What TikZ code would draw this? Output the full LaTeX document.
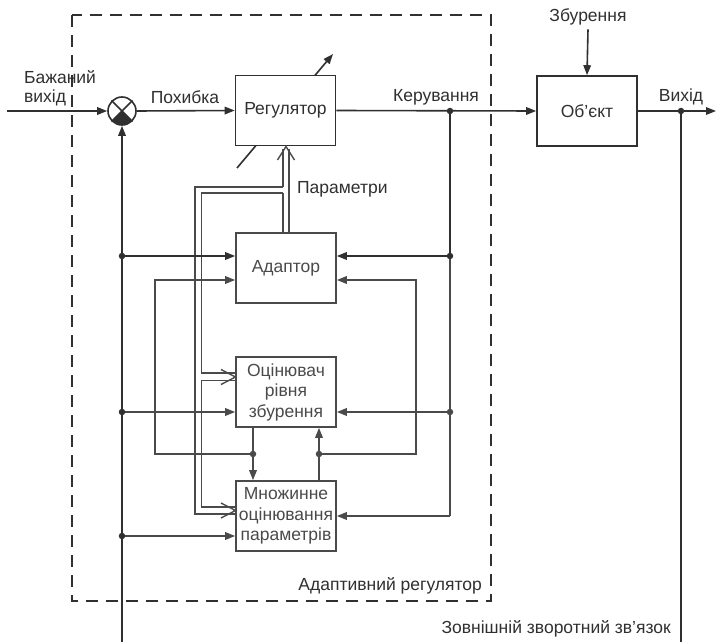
\documentclass[tikz,border=0pt]{standalone}
\usepackage{fontspec}
\setmainfont{Liberation Sans}
\usetikzlibrary{arrows.meta,calc}
\definecolor{ink}{HTML}{303030}
\definecolor{ink2}{HTML}{4A4A4A}
\begin{document}
\begin{tikzpicture}[x=1pt,y=-1pt,
  line width=1.6pt,
  every node/.style={font=\fontsize{17.5}{20.5}\selectfont, text=ink},
  blk/.style={draw=ink, fill=white, minimum width=100pt, minimum height=70pt, inner sep=0pt, align=center},
  sblk/.style={blk, draw=ink2, text=ink2},
  arr/.style={draw=ink, -{Triangle[length=10pt,width=7.5pt]}},
  sarr/.style={draw=ink2, -{Triangle[length=10pt,width=7.5pt]}},
  ln/.style={draw=ink},
  sln/.style={draw=ink2},
  dotn/.style={circle, fill=ink, inner sep=0pt, minimum size=6.5pt},
  dbl/.style={draw=ink2, line width=1.4pt, line join=miter},
  frame/.style={draw=ink, line width=1.6pt, dash pattern=on 12pt off 8pt}
]
\useasboundingbox (0,0) rectangle (716,642);
\fill[white] (0,0) rectangle (716,642);

% adaptive regulator frame
\draw[frame] (72,15) rectangle (491,601);
\node[anchor=east] (lab) at (486,586) {Адаптивний регулятор};

% adjustable-regulator diagonal arrow (behind the block)
\coordinate (dA) at (237,168);
\coordinate (dB) at (333,54);
\draw[arr] (dA) -- (dB);

% blocks
\node[blk] (reg) at (285.5,110.5) {Регулятор};
\node[blk] (obj) at (587,111) {Об’єкт};
\node[sblk] (adapt) at (286,268) {Адаптор};
\node[sblk] (est) at (286,392) {Оцінювач\\рівня\\збурення};
\node[sblk] (mult) at (286,516) {Множинне\\оцінювання\\параметрів};

% summing junction
\node[circle, draw=ink, minimum size=28pt, inner sep=0pt] (sum) at (122,111) {};
\begin{scope}
  \clip (sum.center) -- ($(sum.center)!2!(sum.-45)$) -- ($(sum.center)!2!(sum.-135)$) -- cycle;
  \node[circle, fill=ink, minimum size=28pt, inner sep=0pt] at (sum.center) {};
\end{scope}
\draw[ln] (sum.45) -- (sum.-135);
\draw[ln] (sum.135) -- (sum.-45);

% labels on top
\node[align=left, anchor=west, font=\fontsize{17.5}{18.5}\selectfont] (des) at (20,88) {Бажаний\\вихід};
\node (err) at (185,97) {Похибка};
\node (ctl) at (436,97) {Керування};
\node (outl) at (681,97) {Вихід};
\node (zb) at (588,17) {Збурення};
\node[anchor=west] (par) at (293,189) {Параметри};
\node[anchor=east] (fbl) at (675,629) {Зовнішній зворотний зв’язок};

% main line
\coordinate (in) at (7,111);
\coordinate (ku) at (450,111);
\coordinate (vy) at (681,111);
\coordinate (out) at (716,111);
\draw[arr] (in) -- (sum.west);
\draw[arr] (sum.east) -- (reg.west);
\draw[arr] (reg.east) -- (obj.west);
\draw[arr] (obj.east) -- (out);
\draw[arr] (zb.south) -- (obj.north);

% external feedback
\coordinate (fbR) at (681,642);
\coordinate (fbL) at (122,642);
\draw[ln] (vy) -- (fbR);
\draw[arr] (fbL) -- (sum.south);
\node[dotn] at (vy) {};

% double (parameter) lines
\draw[dbl] (289,233) -- (289,149);
\draw[dbl] (283,233) -- (283,193);
\draw[dbl] (283,187) -- (283,149);
\draw[dbl] (277.5,160) -- (286,146.5) -- (294.5,160);
\draw[dbl] (283,187) -- (195,187) -- (195,514) -- (235,514);
\draw[dbl] (283,193) -- (201.5,193) -- (201.5,373) -- (235,373);
\draw[dbl] (235,380.5) -- (201.5,380.5) -- (201.5,507) -- (235,507);
\draw[dbl] (221,369.5) -- (235.5,377) -- (221,384.5);
\draw[dbl] (221,503) -- (235.5,510.5) -- (221,518);

% left taps (error signal)
\coordinate (l1) at (122,256);
\coordinate (l2) at (122,412);
\coordinate (l3) at (122,536);
\draw[arr] (l1) -- (adapt.west |- l1);
\draw[sarr] (l2) -- (est.west |- l2);
\draw[sarr] (l3) -- (mult.west |- l3);
\node[dotn] at (l1) {};
\node[dotn] at (l2) {};
\node[dotn] at (l3) {};

% right taps (control signal)
\coordinate (r1) at (450,256);
\coordinate (r2) at (450,412);
\coordinate (r3) at (450,516);
\draw[ln] (ku) -- (r1);
\draw[sln] (r1) -- (r3);
\draw[arr] (r1) -- (adapt.east |- r1);
\draw[sarr] (r2) -- (est.east |- r2);
\draw[sarr] (r3) -- (mult.east |- r3);
\node[dotn] at (ku) {};
\node[dotn] at (r1) {};
\node[dotn, fill=ink2] at (r2) {};

% internal estimator links
\coordinate (e1) at (253,454);
\coordinate (m1) at (319,454);
\coordinate (cL) at (155,454);
\coordinate (cLt) at (155,280);
\coordinate (cR) at (416,454);
\coordinate (cRt) at (416,280);
\draw[sln] (e1 |- est.south) -- (e1);
\draw[sarr] (e1) -- (e1 |- mult.north);
\draw[sarr] (e1) -- (cL) -- (cLt) -- (adapt.west |- cLt);
\draw[sln] (m1 |- mult.north) -- (m1);
\draw[sarr] (m1) -- (m1 |- est.south);
\draw[sarr] (m1) -- (cR) -- (cRt) -- (adapt.east |- cRt);
\node[dotn, fill=ink2] at (e1) {};
\node[dotn, fill=ink2] at (m1) {};
\end{tikzpicture}
\end{document}
